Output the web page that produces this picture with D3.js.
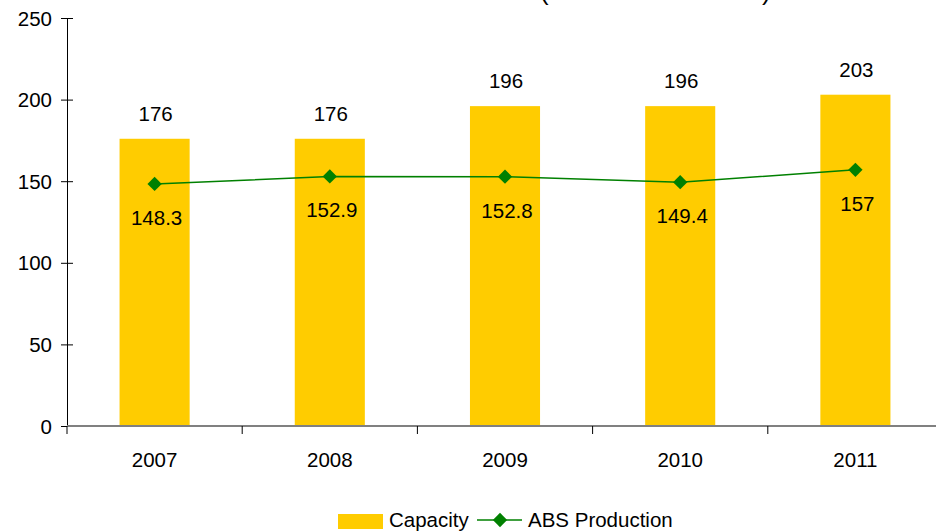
<!DOCTYPE html>
<html lang="en">
  <head>
    <meta charset="UTF-8" />
    <title>Capacity vs ABS Production</title>
    <script src="https://d3js.org/d3.v7.min.js"></script>
    <style>
      body {
        margin: 0;
        background: #fff;
      }
      * {
        font-family: "Liberation Sans", Arial, sans-serif;
      }
      .label {
        font-size: 20.5px;
        fill: #000;
      }
    </style>
  </head>
  <body></body>
  <script>
    const years = ["2007", "2008", "2009", "2010", "2011"];
    const capacity = [176, 176, 196, 196, 203];
    const production = [148.3, 152.9, 152.8, 149.4, 157];
    const yTicks = [0, 50, 100, 150, 200, 250];

    const width = 936;
    const height = 532;

    const svg = d3
      .select("body")
      .append("svg")
      .attr("width", width)
      .attr("height", height);

    const x = d3.scaleBand().domain(years).range([67, 943]).padding(0);
    const y = d3.scaleLinear().domain([0, 250]).range([426, 18]);
    const barW = x.bandwidth() * 0.4;

    // cut-off title: only the bottom of the brackets shows
    svg
      .append("text")
      .attr("x", 540)
      .attr("y", 0)
      .style("font-size", "26px")
      .text("(");
    svg
      .append("text")
      .attr("x", 762)
      .attr("y", 0)
      .style("font-size", "26px")
      .text(")");

    // bars
    svg
      .selectAll(".bar")
      .data(years)
      .enter()
      .append("rect")
      .attr("class", "bar")
      .attr("x", (d) => x(d) + (x.bandwidth() - barW) / 2)
      .attr("width", barW)
      .attr("y", (d, i) => y(capacity[i]))
      .attr("height", (d, i) => y(0) - y(capacity[i]))
      .attr("fill", "#FFCC00");

    svg
      .selectAll(".cap-label")
      .data(years)
      .enter()
      .append("text")
      .attr("class", "label")
      .attr("text-anchor", "middle")
      .attr("x", (d) => x(d) + x.bandwidth() / 2 + 1)
      .attr("y", (d, i) => y(capacity[i]) - 18)
      .text((d, i) => capacity[i]);

    // y axis
    const yAxis = svg
      .append("g")
      .attr("transform", "translate(67,0)")
      .call(d3.axisLeft(y).tickValues(yTicks).tickSize(6).tickSizeOuter(0));
    yAxis.select(".domain").attr("stroke", "#000");
    yAxis
      .selectAll(".tick line")
      .attr("x1", 6)
      .attr("x2", -6)
      .attr("stroke", "#000");
    yAxis
      .selectAll(".tick text")
      .attr("class", "label")
      .attr("x", -15)
      .attr("dy", "0.35em");

    // x axis
    const xAxisG = svg.append("g").attr("transform", "translate(0,426)");
    xAxisG
      .append("line")
      .attr("x1", 67)
      .attr("x2", 943)
      .attr("stroke", "#808080")
      .attr("stroke-width", 2);
    xAxisG
      .selectAll(".xtick")
      .data(years)
      .enter()
      .append("line")
      .attr("x1", (d) => x(d))
      .attr("x2", (d) => x(d))
      .attr("y1", 0)
      .attr("y2", 8)
      .attr("stroke", "#000");
    xAxisG
      .selectAll(".xlabel")
      .data(years)
      .enter()
      .append("text")
      .attr("class", "label")
      .attr("text-anchor", "middle")
      .attr("x", (d) => x(d) + x.bandwidth() / 2)
      .attr("y", 41)
      .text((d) => d);

    // production line
    const pts = years.map((d, i) => [x(d) + x.bandwidth() / 2, y(production[i])]);
    svg
      .append("path")
      .attr("d", d3.line()(pts))
      .attr("fill", "none")
      .attr("stroke", "#008000")
      .attr("stroke-width", 1.5);

    const diamond = d3.symbol().type(d3.symbolDiamond2).size(130);
    svg
      .selectAll(".pt")
      .data(pts)
      .enter()
      .append("path")
      .attr("d", diamond)
      .attr("transform", (d) => `translate(${d[0]},${d[1]})`)
      .attr("fill", "#008000");

    svg
      .selectAll(".prod-label")
      .data(pts)
      .enter()
      .append("text")
      .attr("class", "label")
      .attr("text-anchor", "middle")
      .attr("x", (d) => d[0] + 2)
      .attr("y", (d) => d[1] + 41)
      .text((d, i) => production[i]);

    // legend
    const legend = svg.append("g");
    legend
      .append("rect")
      .attr("x", 338)
      .attr("y", 514)
      .attr("width", 45)
      .attr("height", 15)
      .attr("fill", "#FFCC00");
    legend
      .append("text")
      .attr("class", "label")
      .attr("x", 389)
      .attr("y", 527)
      .text("Capacity");
    legend
      .append("line")
      .attr("x1", 477)
      .attr("x2", 522)
      .attr("y1", 520)
      .attr("y2", 520)
      .attr("stroke", "#008000")
      .attr("stroke-width", 1.5);
    legend
      .append("path")
      .attr("d", diamond)
      .attr("transform", "translate(500,520)")
      .attr("fill", "#008000");
    legend
      .append("text")
      .attr("class", "label")
      .attr("x", 528)
      .attr("y", 527)
      .text("ABS Production");
  </script>
</html>
